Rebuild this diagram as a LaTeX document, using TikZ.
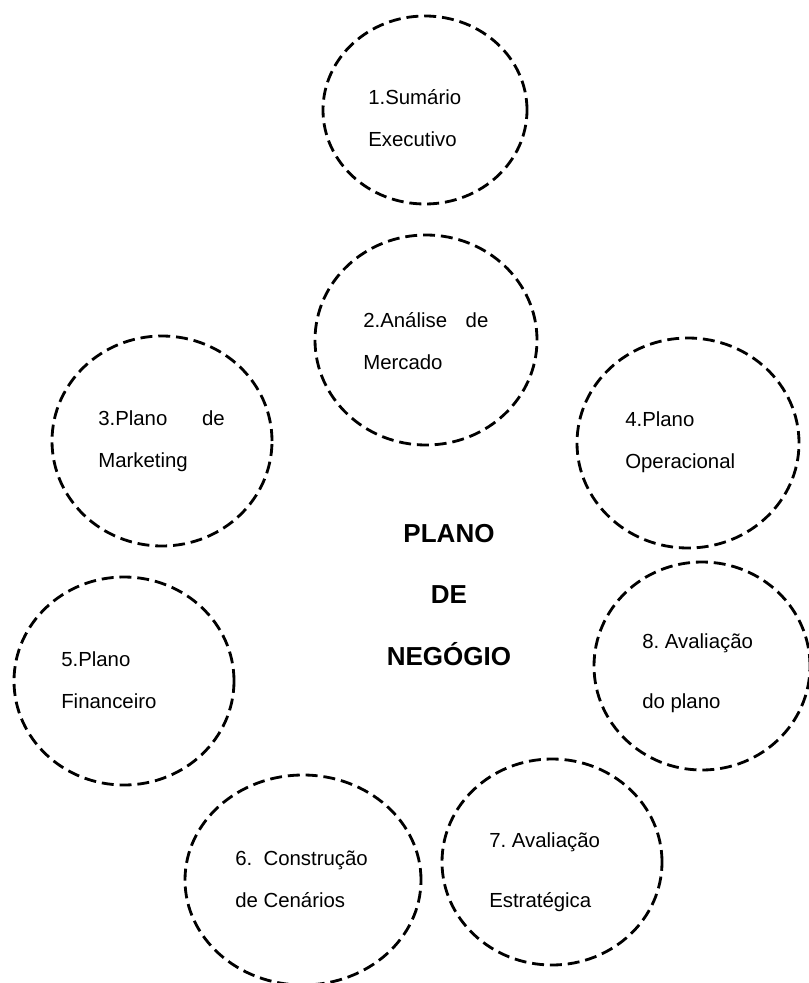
\documentclass[tikz,border=0pt]{standalone}
\usepackage{fontspec}
\setmainfont{Liberation Sans}

\begin{document}
\begin{tikzpicture}[bubble/.style={line width=2pt, dash pattern=on 8.5pt off 4.2pt},
    lbl/.style={anchor=west, align=left, inner sep=0pt, font=\frenchspacing\fontsize{14.5}{30}\selectfont},
    widelbl/.style={lbl, font=\frenchspacing\fontsize{14.5}{42.5}\selectfont}]
    \useasboundingbox (0,0) rectangle (20.2,-24.575);
    % centres of the bubbles
    \coordinate (C1) at (10.625,-2.75);
    \coordinate (C2) at (10.65,-8.5);
    \coordinate (C3) at (4.05,-11.025);
    \coordinate (C4) at (17.2,-11.075);
    \coordinate (C5) at (3.1,-17.025);
    \coordinate (C6) at (7.575,-22.0);
    \coordinate (C7) at (13.8,-21.55);
    \coordinate (C8) at (17.55,-16.65);
    \draw[bubble] (C1) ellipse (2.55 and 2.35);
    \draw[bubble] (C2) ellipse (2.775 and 2.625);
    \draw[bubble] (C3) ellipse (2.75 and 2.625);
    \draw[bubble] (C4) ellipse (2.775 and 2.625);
    \draw[bubble] (C5) ellipse (2.75 and 2.6);
    \draw[bubble] (C6) ellipse (2.95 and 2.625);
    \draw[bubble] (C7) ellipse (2.75 and 2.575);
    \draw[bubble] (C8) ellipse (2.7 and 2.6);
    % texts
    \node[lbl] (T1) at (9.2,-2.95) {1.Sumário\\Executivo};
    \node[lbl] (T2) at (9.075,-8.525) {\makebox[89pt][s]{2.Análise de}\\Mercado};
    \node[lbl] (T3) at (2.45,-11.025) {\makebox[90pt][s]{3.Plano de}\\Marketing};
    \node[lbl] (T4) at (15.625,-11.05) {4.Plano\\Operacional};
    \node[lbl] (T5) at (1.525,-17.0) {5.Plano\\Financeiro};
    \node[lbl] (T6) at (5.875,-21.975) {6.\ \ Construção\\de Cenários};
    \node[widelbl] (T7) at (12.225,-21.8) {7. Avaliação\\Estratégica};
    \node[widelbl] (T8) at (16.05,-16.825) {8. Avaliação\\do plano};
    \node[align=center, inner sep=0pt, font=\bfseries\fontsize{18.5}{44}\selectfont] (title) at (11.225,-14.875) {PLANO\\DE\\NEGÓGIO};
\end{tikzpicture}
\end{document}
